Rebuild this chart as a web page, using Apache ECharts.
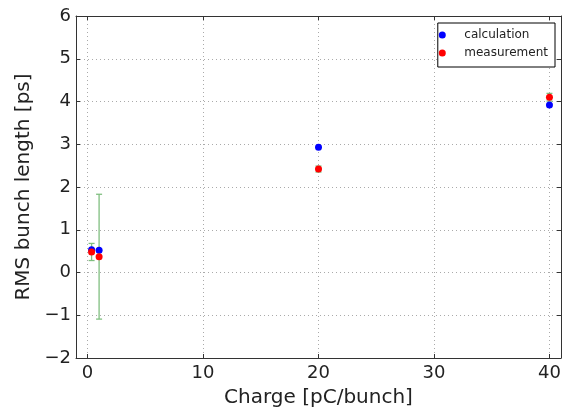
<!DOCTYPE html>
<html>
<head>
<meta charset="utf-8">
<script src="https://cdn.jsdelivr.net/npm/echarts@6/dist/echarts.min.js"></script>
<style>html,body{margin:0;padding:0;background:#fff}#c{width:568px;height:413px}</style>
</head>
<body>
<div id="c"></div>
<script>
const charges = [0.35, 1, 20, 40];
const calcValues = [0.53, 0.52, 2.93, 3.92];
const measValues = [0.48, 0.37, 2.42, 4.10];
const measErrors = [0.20, 1.46, 0.07, 0.09];
const xTicks = [0, 10, 20, 30, 40];
const yTicks = [-2, -1, 0, 1, 2, 3, 4, 5, 6];

const FONT = 'DejaVu Sans';
const calcData = charges.map((c, i) => [c, calcValues[i]]);
const measData = charges.map((c, i) => [c, measValues[i]]);
const errData = charges.map((c, i) => [c, measValues[i] - measErrors[i], measValues[i] + measErrors[i]]);

const axisLineStyle = { color: '#333', width: 1 };
const gridLineStyle = { color: '#aaa', type: [1, 3], width: 1 };

const baseX = {
  type: 'value', min: -1, max: 41,
  axisLine: { show: true, onZero: false, lineStyle: axisLineStyle },
  axisTick: { show: true, inside: true, length: 4, lineStyle: axisLineStyle,
    customValues: xTicks },
};
const baseY = {
  type: 'value', min: -2, max: 6, interval: 1,
  axisLine: { show: true, onZero: false, lineStyle: axisLineStyle },
  axisTick: { show: true, inside: true, length: 4, lineStyle: axisLineStyle,
    customValues: yTicks },
};

const chart = echarts.init(document.getElementById('c'));
chart.setOption({
  animation: false,
  backgroundColor: '#fff',
  grid: { left: 76, right: 7, top: 16, bottom: 54, containLabel: false },
  legend: {
    data: ['calculation', 'measurement'],
    orient: 'vertical', right: 13, top: 23,
    icon: 'circle', itemWidth: 34, itemHeight: 7, itemGap: 6,
    padding: [6, 7, 8, 1],
    borderColor: '#000', borderWidth: 1, borderRadius: 0,
    backgroundColor: '#fff',
    textStyle: { fontFamily: FONT, fontSize: 12, color: '#222', lineHeight: 12 },
  },
  xAxis: [
    Object.assign({}, baseX, {
      position: 'bottom',
      name: 'Charge [pC/bunch]', nameLocation: 'middle', nameGap: 30,
      nameTextStyle: { fontFamily: FONT, fontSize: 20, color: '#222' },
      axisLabel: { customValues: xTicks, fontFamily: FONT, fontSize: 18, color: '#222', margin: 6 },
      splitLine: { show: true, lineStyle: gridLineStyle },
    }),
    Object.assign({}, baseX, {
      position: 'top',
      axisLabel: { show: false },
      splitLine: { show: false },
    }),
  ],
  yAxis: [
    Object.assign({}, baseY, {
      position: 'left',
      name: 'RMS bunch length [ps]', nameLocation: 'middle', nameGap: 42,
      nameTextStyle: { fontFamily: FONT, fontSize: 20, color: '#222' },
      axisLabel: { fontFamily: FONT, fontSize: 18, color: '#222', margin: 5,
        formatter: v => (v < 0 ? '\u2212' + Math.abs(v) : String(v)) },
      splitLine: { show: true, lineStyle: gridLineStyle },
    }),
    Object.assign({}, baseY, {
      position: 'right',
      axisLabel: { show: false },
      splitLine: { show: false },
    }),
  ],
  series: [
    {
      name: 'calculation', type: 'scatter', data: calcData,
      symbol: 'circle', symbolSize: 7, z: 3,
      itemStyle: { color: '#0000ff', opacity: 1 },
    },
    {
      name: 'measurement-err', type: 'custom', data: errData, z: 2,
      encode: { x: 0, y: [1, 2] },
      renderItem: function (params, api) {
        const x = api.value(0), lo = api.value(1), hi = api.value(2);
        const pt = api.coord([x, hi]), pb = api.coord([x, lo]);
        const w = 3;
        const st = { stroke: '#80bf80', lineWidth: 1.3, fill: null };
        return {
          type: 'group',
          children: [
            { type: 'line', shape: { x1: pt[0], y1: pt[1], x2: pb[0], y2: pb[1] }, style: st },
            { type: 'line', shape: { x1: pt[0] - w, y1: pt[1], x2: pt[0] + w, y2: pt[1] }, style: st },
            { type: 'line', shape: { x1: pb[0] - w, y1: pb[1], x2: pb[0] + w, y2: pb[1] }, style: st },
          ],
        };
      },
    },
    {
      name: 'measurement', type: 'scatter', data: measData,
      symbol: 'circle', symbolSize: 7, z: 4,
      itemStyle: { color: '#ff0000', opacity: 1 },
    },
  ],
});
</script>
</body>
</html>
